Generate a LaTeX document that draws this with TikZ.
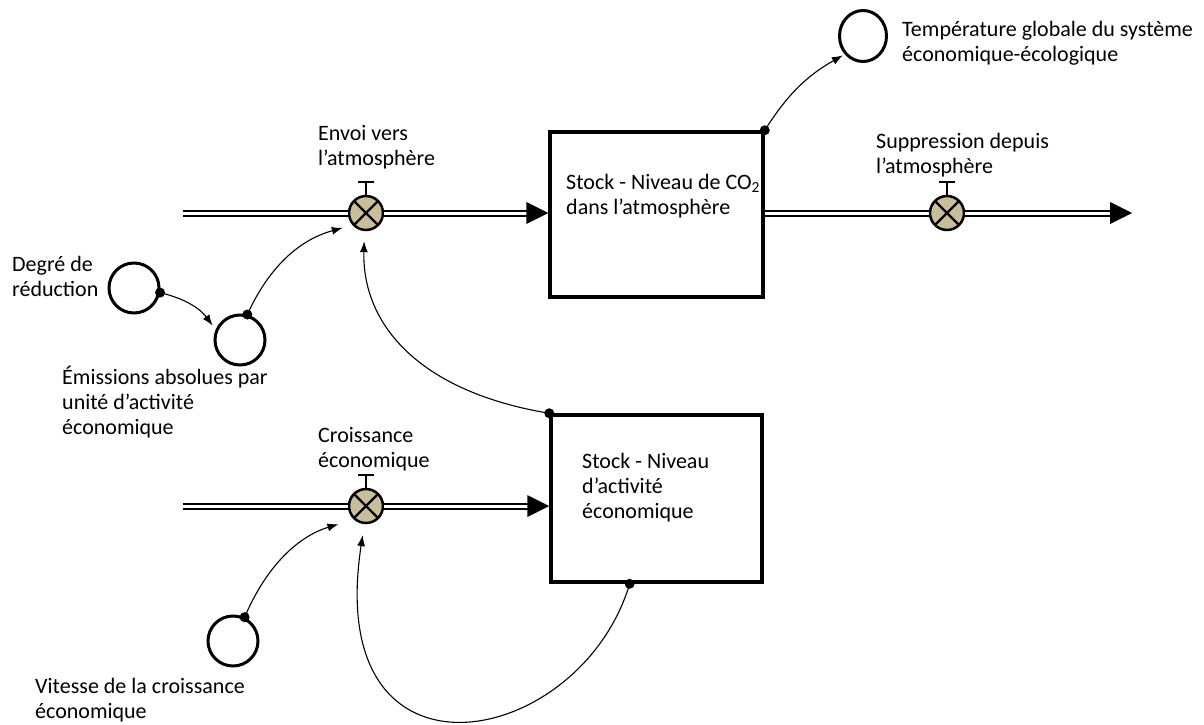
\documentclass[tikz,border=0pt]{standalone}
\usepackage{fontspec}
\setmainfont{Carlito}
\usetikzlibrary{arrows.meta,shapes.geometric,calc}
\definecolor{valvetan}{HTML}{C8BE9C}
\begin{document}
\begin{tikzpicture}[x=1pt,y=1pt,
  lbl/.style={anchor=base west,inner sep=0pt,align=left,font=\fontsize{22}{25}\selectfont},
  stockbox/.style={draw,line width=3.5pt,rectangle,inner sep=0pt},
  auxvar/.style={draw,line width=3pt,circle,minimum size=50pt,inner sep=0pt},
  valve/.style={draw,line width=2.5pt,circle,fill=valvetan,minimum size=34pt,inner sep=0pt,
    path picture={\draw[line width=2.2pt] (path picture bounding box.north west) -- (path picture bounding box.south east)
      (path picture bounding box.north east) -- (path picture bounding box.south west);}},
  pipe/.style={draw,line width=2pt,double=white,double distance=3pt},
  link/.style={draw,line width=1.1pt,-{Latex[length=11pt,width=8pt]}},
  ]
\useasboundingbox (0,0) rectangle (1204,-725);

% stocks
\node[stockbox,minimum width=213pt,minimum height=165pt] (box1) at (656.5,-214.5) {};
\node[stockbox,minimum width=211pt,minimum height=167pt] (box2) at (656.5,-498.5) {};

% valves
\node[valve] (v1) at (366,-213) {};
\node[valve] (v2) at (366,-506) {};
\node[valve] (v3) at (947,-213) {};

% auxiliaries
\node[draw,line width=3pt,ellipse,minimum width=47pt,minimum height=51pt,inner sep=0pt] (temp) at (863,-36) {};
\node[auxvar] (deg) at (134,-288) {};
\node[auxvar] (emi) at (240,-340) {};
\node[auxvar] (vit) at (233,-641) {};

% valve handles
\foreach \v in {v1,v2,v3}{
  \draw[line width=2pt] (\v.north) -- ++(0,13);
  \draw[line width=2.5pt] ([xshift=-8pt,yshift=13pt]\v.north) -- ([xshift=8pt,yshift=13pt]\v.north);
}

% pipes
\coordinate (src1) at (183,-213);
\coordinate (src2) at (183,-506);
\coordinate (sink) at (1132,-213);
\coordinate (t1) at (box1.west |- v1);
\coordinate (t2) at (box2.west |- v2);
\coordinate (o1) at (box1.east |- v3);

\draw[pipe] (src1) -- (v1.west);
\draw[pipe] (v1.east) -- ([xshift=-18pt]t1);
\fill ([xshift=-22pt,yshift=11pt]t1) -- (t1) -- ([xshift=-22pt,yshift=-11pt]t1) -- cycle;

\draw[pipe] (src2) -- (v2.west);
\draw[pipe] (v2.east) -- ([xshift=-18pt]t2);
\fill ([xshift=-22pt,yshift=11pt]t2) -- (t2) -- ([xshift=-22pt,yshift=-11pt]t2) -- cycle;

\draw[pipe] (o1) -- (v3.west);
\draw[pipe] (v3.east) -- ([xshift=-18pt]sink);
\fill ([xshift=-22pt,yshift=11pt]sink) -- (sink) -- ([xshift=-22pt,yshift=-11pt]sink) -- cycle;

% information links
\coordinate (dT) at (box1.north east);
\coordinate (dB) at (box2.north west);
\coordinate (dC) at ($(box2.south west)!0.375!(box2.south east)$);
\fill (dT) circle (5pt);
\fill (dB) circle (5pt);
\fill (dC) circle (5pt);
\fill (deg.-10) circle (5pt);
\fill (emi.74) circle (5pt);
\fill (vit.64) circle (5pt);

\draw[link,shorten >=2pt] (dT) to[bend left=14] (temp.225);
\draw[link,shorten >=5pt] (deg.-10) to[bend left=20] (emi.157);
\draw[link,shorten >=10pt] (emi.74) to[bend left=25] (v1.222);
\draw[link,shorten >=10pt] (dB) .. controls (420,-392) and (362,-325) .. (v1.265);
\draw[link,shorten >=16pt] (vit.64) to[bend left=25] (v2.228);
\draw[link,shorten >=11pt] (dC) .. controls (580,-750) and (322,-800) .. (v2.265);

% labels (anchor at baseline of last line)
\node[lbl] (ltemp) at (902,-62) {Température globale du système\\économique-écologique};
\node[lbl] (lenv) at (318,-165) {Envoi vers\\l’atmosphère};
\node[lbl] (lsup) at (876,-173) {Suppression depuis\\l’atmosphère};
\node[lbl] (lbox1) at (566,-214) {Stock - Niveau de CO\textsubscript{2}\\dans l’atmosphère};
\node[lbl] (ldeg) at (12,-296) {Degré de\\réduction};
\node[lbl] (lemi) at (62,-434) {Émissions absolues par\\unité d’activité\\économique};
\node[lbl] (lcro) at (318,-467) {Croissance\\économique};
\node[lbl] (lbox2) at (582,-518) {Stock - Niveau\\d’activité\\économique};
\node[lbl] (lvit) at (35,-718) {Vitesse de la croissance\\économique};
\end{tikzpicture}
\end{document}
